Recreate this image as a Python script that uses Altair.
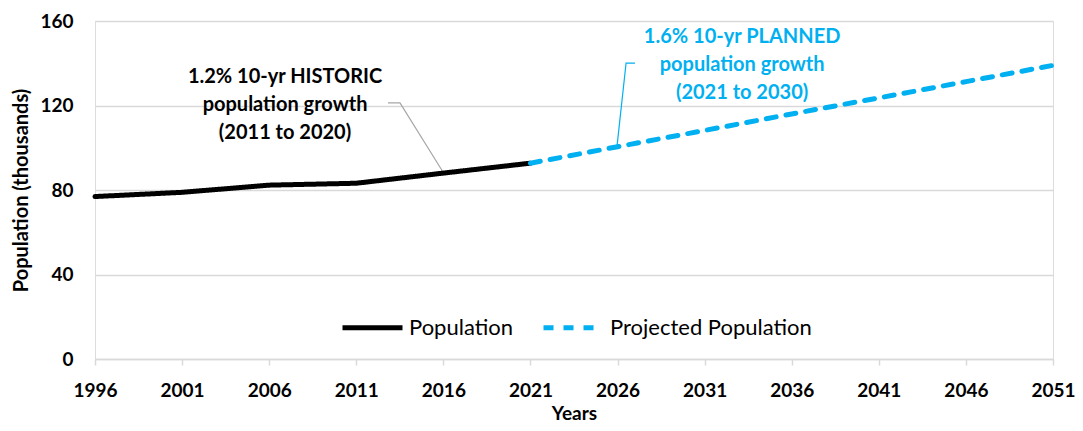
import altair as alt
import pandas as pd

# ---- data ----
hist_years = [1996, 2001, 2006, 2011, 2016, 2021]
hist_pop = [76.9, 78.9, 82.3, 83.2, 88.0, 92.7]
proj_years = [2021, 2026, 2031, 2036, 2041, 2046, 2051]
proj_pop = [92.7, 100.5, 108.2, 116.0, 123.6, 131.3, 139.0]
series_names = ["Population", "Projected Population"]
series_colors = ["#000000", "#00B0F0"]

x_ticks = [1996, 2001, 2006, 2011, 2016, 2021, 2026, 2031, 2036, 2041, 2046, 2051]
y_ticks = [0, 40, 80, 120, 160]

# annotations (data coordinates of first text line)
note_text = ["1.2% 10-yr HISTORIC\npopulation growth\n(2011 to 2020)",
             "1.6% 10-yr PLANNED\npopulation growth\n(2021 to 2030)"]
note_year = [2006.91, 2033.15]
note_val = [133.5, 152.4]
note_color = ["#000000", "#00B0F0"]

hist_leader_year = [2012.82, 2013.51, 2015.98]
hist_leader_val = [121.2, 121.2, 88.5]
proj_leader_year = [2027.0, 2026.49, 2025.97]
proj_leader_val = [140.1, 140.1, 100.8]

FONT = "Lato"

rows = []
for y, v in zip(hist_years, hist_pop):
    rows.append({"year": y, "pop": v, "series": series_names[0]})
for y, v in zip(proj_years, proj_pop):
    rows.append({"year": y, "pop": v, "series": series_names[1]})
df = pd.DataFrame(rows)

x_scale = alt.Scale(domain=[1996, 2051], nice=False, zero=False)
y_scale = alt.Scale(domain=[0, 160], nice=False)

x_axis = alt.Axis(values=x_ticks, format="d", grid=False, domainColor="#d9d9d9",
                  domainWidth=1.5, tickColor="#d9d9d9", tickSize=6, tickWidth=1.5,
                  labelFontSize=19, labelFontWeight="bold", labelColor="#000000",
                  labelFont=FONT, labelPadding=16, labelBaseline="top",
                  title="Years", titleFont=FONT, titleFontSize=19,
                  titleFontWeight="bold", titleColor="#000000", titlePadding=4,
                  labelFlush=False, labelOverlap=False)
y_axis = alt.Axis(values=y_ticks, grid=True, gridColor="#d9d9d9", gridWidth=1.5,
                  domain=False, ticks=False, labelPadding=22,
                  labelFontSize=19, labelFontWeight="bold", labelColor="#000000",
                  labelFont=FONT, title="Population (thousands)", titleFont=FONT,
                  titleFontSize=20, titleFontWeight="bold", titleColor="#000000",
                  titlePadding=8)

lines = alt.Chart(df).mark_line(strokeWidth=5, strokeCap="round").encode(
    x=alt.X("year:Q", scale=x_scale, axis=x_axis),
    y=alt.Y("pop:Q", scale=y_scale, axis=y_axis),
    color=alt.Color("series:N", scale=alt.Scale(domain=series_names, range=series_colors),
                    legend=alt.Legend(title=None, orient="none", direction="horizontal",
                                      legendX=245, legendY=274, symbolType="stroke",
                                      symbolSize=3600, symbolStrokeWidth=5,
                                      labelFont=FONT, labelFontSize=22, labelLimit=400,
                                      labelColor="#000000", labelOffset=4,
                                      columnPadding=20, padding=0)),
    strokeDash=alt.StrokeDash("series:N",
                              scale=alt.Scale(domain=series_names, range=[[1, 0], [10, 10]]),
                              legend=None),
)

lead_df = pd.DataFrame(
    [{"year": y, "pop": v, "o": i} for i, (y, v) in enumerate(zip(hist_leader_year, hist_leader_val))]
)
lead_df2 = pd.DataFrame(
    [{"year": y, "pop": v, "o": i} for i, (y, v) in enumerate(zip(proj_leader_year, proj_leader_val))]
)
lead_h = alt.Chart(lead_df).mark_line(color="#a6a6a6", strokeWidth=1.2).encode(
    x=alt.X("year:Q", scale=x_scale), y=alt.Y("pop:Q", scale=y_scale), order="o:Q")
lead_p = alt.Chart(lead_df2).mark_line(color="#00B0F0", strokeWidth=1.2).encode(
    x=alt.X("year:Q", scale=x_scale), y=alt.Y("pop:Q", scale=y_scale), order="o:Q")

notes_df = pd.DataFrame({"t": note_text, "year": note_year, "pop": note_val, "c": note_color})
notes = alt.Chart(notes_df).mark_text(font=FONT, fontSize=20, fontWeight="bold",
                                      lineBreak="\n", lineHeight=28, align="center",
                                      baseline="middle").encode(
    x=alt.X("year:Q", scale=x_scale), y=alt.Y("pop:Q", scale=y_scale),
    text="t:N", color=alt.Color("c:N", scale=None))

chart = alt.layer(lead_h, lead_p, lines, notes).properties(
    width=958, height=338,
    padding={"left": 87, "top": 13, "right": 22, "bottom": 64},
    autosize=alt.AutoSizeParams(type="none"),
).configure_view(stroke=None).configure(background="#ffffff")

chart.save("out.html", embed_options={"renderer": "svg", "actions": False})
